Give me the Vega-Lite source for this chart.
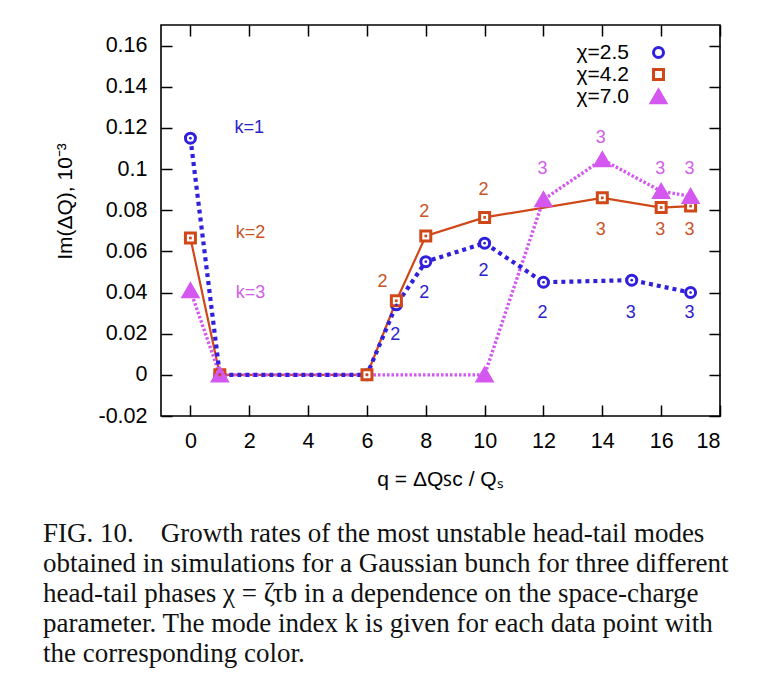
{
  "$schema": "https://vega.github.io/schema/vega-lite/v6.json",
  "width": 559,
  "height": 391,
  "autosize": {"type": "none"},
  "padding": {"left": 161, "top": 25, "right": 39, "bottom": 266},
  "background": "white",
  "config": {
    "view": {"stroke": "black", "strokeWidth": 1.6},
    "axis": {
      "grid": false,
      "domain": false,
      "tickColor": "black",
      "tickWidth": 1.5,
      "tickSize": -11,
      "labelFont": "Liberation Sans",
      "labelFontSize": 21.5,
      "labelColor": "black",
      "labelPadding": 25,
      "titleFont": "Liberation Sans",
      "titleFontSize": 21,
      "titleFontWeight": "normal",
      "titleColor": "black"
    },
    "legend": {
      "orient": "none",
      "legendX": 487,
      "legendY": 17,
      "labelFont": "Liberation Sans",
      "labelFontSize": 21,
      "labelColor": "black",
      "labelAlign": "right",
      "labelOffset": -40,
      "symbolStrokeWidth": 3,
      "rowPadding": -2.5,
      "padding": 0
    }
  },
  "title": {
    "text": [
      "FIG. 10.\u00a0\u00a0\u00a0\u00a0Growth rates of the most unstable head-tail modes",
      "obtained in simulations for a Gaussian bunch for three different",
      "head-tail phases χ = ζτb in a dependence on the space-charge",
      "parameter. The mode index k is given for each data point with",
      "the corresponding color."
    ],
    "orient": "bottom",
    "anchor": "start",
    "frame": "group",
    "font": "Liberation Serif",
    "fontSize": 27,
    "fontWeight": "normal",
    "lineHeight": 30,
    "color": "#111111",
    "offset": 32,
    "dx": -118
  },
  "datasets": {
    "pts": [
      {"s": "χ=2.5", "q": 0, "v": 0.115},
      {"s": "χ=2.5", "q": 1, "v": 0},
      {"s": "χ=2.5", "q": 6, "v": 0},
      {"s": "χ=2.5", "q": 7, "v": 0.034},
      {"s": "χ=2.5", "q": 8, "v": 0.055},
      {"s": "χ=2.5", "q": 10, "v": 0.064},
      {"s": "χ=2.5", "q": 12, "v": 0.045},
      {"s": "χ=2.5", "q": 15, "v": 0.046},
      {"s": "χ=2.5", "q": 17, "v": 0.040},
      {"s": "χ=4.2", "q": 0, "v": 0.0665},
      {"s": "χ=4.2", "q": 1, "v": 0},
      {"s": "χ=4.2", "q": 6, "v": 0},
      {"s": "χ=4.2", "q": 7, "v": 0.036},
      {"s": "χ=4.2", "q": 8, "v": 0.0675},
      {"s": "χ=4.2", "q": 10, "v": 0.0765},
      {"s": "χ=4.2", "q": 14, "v": 0.086},
      {"s": "χ=4.2", "q": 16, "v": 0.0813},
      {"s": "χ=4.2", "q": 17, "v": 0.082},
      {"s": "χ=7.0", "q": 0, "v": 0.041},
      {"s": "χ=7.0", "q": 1, "v": 0},
      {"s": "χ=7.0", "q": 10, "v": 0},
      {"s": "χ=7.0", "q": 12, "v": 0.0852},
      {"s": "χ=7.0", "q": 14, "v": 0.1046},
      {"s": "χ=7.0", "q": 16, "v": 0.0892},
      {"s": "χ=7.0", "q": 17, "v": 0.0868}
    ],
    "lbl": [
      {"s": "χ=2.5", "q": 2.0, "v": 0.120, "t": "k=1"},
      {"s": "χ=4.2", "q": 2.04, "v": 0.069, "t": "k=2"},
      {"s": "χ=7.0", "q": 2.04, "v": 0.040, "t": "k=3"},
      {"s": "χ=2.5", "q": 6.96, "v": 0.0195, "t": "2"},
      {"s": "χ=2.5", "q": 7.95, "v": 0.040, "t": "2"},
      {"s": "χ=2.5", "q": 9.96, "v": 0.0503, "t": "2"},
      {"s": "χ=2.5", "q": 11.97, "v": 0.030, "t": "2"},
      {"s": "χ=2.5", "q": 14.97, "v": 0.030, "t": "3"},
      {"s": "χ=2.5", "q": 16.96, "v": 0.030, "t": "3"},
      {"s": "χ=4.2", "q": 6.53, "v": 0.0449, "t": "2"},
      {"s": "χ=4.2", "q": 7.95, "v": 0.079, "t": "2"},
      {"s": "χ=4.2", "q": 9.96, "v": 0.090, "t": "2"},
      {"s": "χ=4.2", "q": 13.95, "v": 0.0702, "t": "3"},
      {"s": "χ=4.2", "q": 15.97, "v": 0.0702, "t": "3"},
      {"s": "χ=4.2", "q": 16.96, "v": 0.0702, "t": "3"},
      {"s": "χ=7.0", "q": 11.97, "v": 0.0998, "t": "3"},
      {"s": "χ=7.0", "q": 13.95, "v": 0.115, "t": "3"},
      {"s": "χ=7.0", "q": 15.97, "v": 0.0998, "t": "3"},
      {"s": "χ=7.0", "q": 16.96, "v": 0.0998, "t": "3"}
    ]
  },
  "layer": [
    {
      "data": {"name": "pts"},
      "transform": [{"filter": "datum.s === 'χ=4.2'"}],
      "mark": {"type": "line", "strokeWidth": 2.2, "color": "#d04818"},
      "encoding": {
        "x": {
          "field": "q", "type": "quantitative",
          "scale": {"domain": [-1, 18], "nice": false, "zero": false},
          "axis": {
            "orient": "bottom",
            "values": [0, 2, 4, 6, 8, 10, 12, 14, 16, 18],
            "title": "q = ΔQꜱᴄ / Qₛ",
            "titleX": 279, "titleY": 69, "titleBaseline": "alphabetic"
          }
        },
        "y": {
          "field": "v", "type": "quantitative",
          "scale": {"domain": [-0.02, 0.17], "nice": false, "zero": false},
          "axis": {
            "orient": "left",
            "values": [-0.02, 0, 0.02, 0.04, 0.06, 0.08, 0.1, 0.12, 0.14, 0.16],
            "labelExpr": "replace(format(datum.value, '~g'), '−', '-')",
            "title": "Im(ΔQ), 10⁻³",
            "titleX": -90, "titleY": 176, "titleAngle": -90,
            "titleBaseline": "alphabetic", "titleAlign": "center"
          }
        }
      }
    },
    {
      "data": {"name": "pts"},
      "transform": [{"filter": "datum.s === 'χ=7.0'"}],
      "mark": {"type": "line", "strokeWidth": 3.4, "strokeDash": [2.5, 2], "strokeCap": "butt", "color": "#d458f0"},
      "encoding": {
        "x": {"field": "q", "type": "quantitative", "axis": null},
        "y": {"field": "v", "type": "quantitative", "axis": null}
      }
    },
    {
      "data": {"name": "pts"},
      "transform": [{"filter": "datum.s === 'χ=2.5'"}],
      "mark": {"type": "line", "strokeWidth": 4.2, "strokeDash": [4, 4], "strokeCap": "butt", "color": "#3020dd"},
      "encoding": {
        "x": {"field": "q", "type": "quantitative", "axis": null},
        "y": {"field": "v", "type": "quantitative", "axis": null}
      }
    },
    {
      "data": {"name": "pts"},
      "mark": {"type": "point", "strokeWidth": 3, "opacity": 1},
      "encoding": {
        "x": {
          "field": "q", "type": "quantitative",
          "axis": {"orient": "top", "values": [0, 2, 4, 6, 8, 10, 12, 14, 16, 18], "labels": false, "title": null}
        },
        "y": {
          "field": "v", "type": "quantitative",
          "axis": {"orient": "right", "values": [-0.02, 0, 0.02, 0.04, 0.06, 0.08, 0.1, 0.12, 0.14, 0.16], "labels": false, "title": null}
        },
        "shape": {
          "field": "s", "type": "nominal", "title": null,
          "scale": {"domain": ["χ=2.5", "χ=4.2", "χ=7.0"], "range": ["circle", "square", "triangle-up"]}
        },
        "stroke": {
          "field": "s", "type": "nominal", "title": null,
          "scale": {"domain": ["χ=2.5", "χ=4.2", "χ=7.0"], "range": ["#3020dd", "#d04818", "#d458f0"]}
        },
        "fill": {
          "field": "s", "type": "nominal", "title": null,
          "scale": {"domain": ["χ=2.5", "χ=4.2", "χ=7.0"], "range": ["white", "white", "#d458f0"]}
        },
        "size": {
          "field": "s", "type": "nominal", "title": null,
          "scale": {"type": "ordinal", "domain": ["χ=2.5", "χ=4.2", "χ=7.0"], "range": [100, 100, 210]}
        }
      }
    },
    {
      "data": {"name": "pts"},
      "transform": [{"filter": "datum.s === 'χ=2.5'"}],
      "mark": {"type": "circle", "size": 7, "color": "#3020dd", "opacity": 1},
      "encoding": {
        "x": {"field": "q", "type": "quantitative", "axis": null},
        "y": {"field": "v", "type": "quantitative", "axis": null}
      }
    },
    {
      "data": {"name": "pts"},
      "transform": [{"filter": "datum.s === 'χ=4.2'"}],
      "mark": {"type": "square", "size": 7, "color": "#d04818", "opacity": 1},
      "encoding": {
        "x": {"field": "q", "type": "quantitative", "axis": null},
        "y": {"field": "v", "type": "quantitative", "axis": null}
      }
    },
    {
      "data": {"name": "lbl"},
      "transform": [{"filter": "datum.s === 'χ=2.5'"}],
      "mark": {"type": "text", "font": "Liberation Sans", "fontSize": 18, "align": "center", "baseline": "middle", "color": "#2c22cc"},
      "encoding": {
        "x": {"field": "q", "type": "quantitative", "axis": null},
        "y": {"field": "v", "type": "quantitative", "axis": null},
        "text": {"field": "t"}
      }
    },
    {
      "data": {"name": "lbl"},
      "transform": [{"filter": "datum.s === 'χ=4.2'"}],
      "mark": {"type": "text", "font": "Liberation Sans", "fontSize": 18, "align": "center", "baseline": "middle", "color": "#c85428"},
      "encoding": {
        "x": {"field": "q", "type": "quantitative", "axis": null},
        "y": {"field": "v", "type": "quantitative", "axis": null},
        "text": {"field": "t"}
      }
    },
    {
      "data": {"name": "lbl"},
      "transform": [{"filter": "datum.s === 'χ=7.0'"}],
      "mark": {"type": "text", "font": "Liberation Sans", "fontSize": 18, "align": "center", "baseline": "middle", "color": "#d060e8"},
      "encoding": {
        "x": {"field": "q", "type": "quantitative", "axis": null},
        "y": {"field": "v", "type": "quantitative", "axis": null},
        "text": {"field": "t"}
      }
    }
  ]
}
